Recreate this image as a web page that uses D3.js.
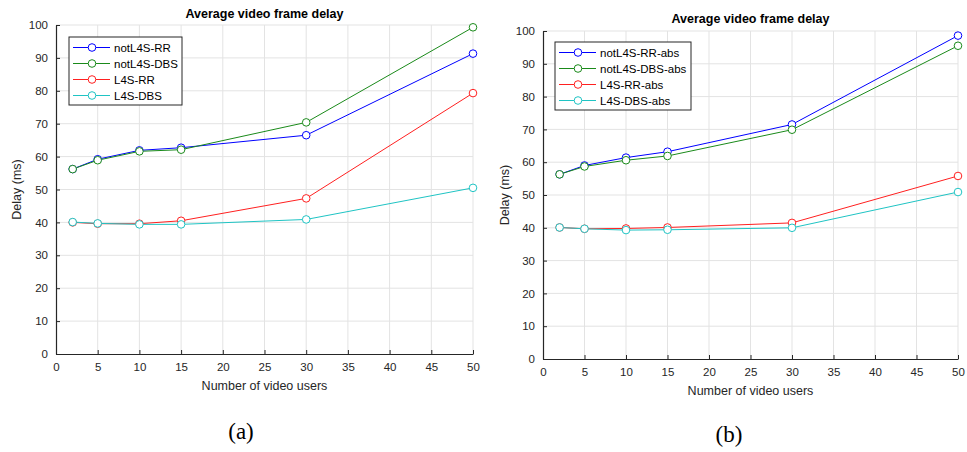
<!DOCTYPE html>
<html>
<head>
<meta charset="utf-8">
<script src="https://cdn.jsdelivr.net/npm/d3@7"></script>
<style>
  html, body { margin: 0; padding: 0; background: #fff; }
  svg text { font-family: "Liberation Sans", Arial, Helvetica, sans-serif; }
</style>
</head>
<body>
<svg id="chart" width="967" height="452"></svg>
<script>
// Number of video users (x values shared by all series)
const users = [2, 5, 10, 15, 30, 50];

// Panel (a): average video frame delay in ms
const seriesNamesA = ["notL4S-RR", "notL4S-DBS", "L4S-RR", "L4S-DBS"];
const notL4S_RR  = [56.2, 59.2, 61.9, 62.7, 66.5, 91.3];
const notL4S_DBS = [56.2, 58.9, 61.6, 62.1, 70.4, 99.3];
const L4S_RR     = [40.0, 39.6, 39.6, 40.5, 47.3, 79.3];
const L4S_DBS    = [40.1, 39.7, 39.4, 39.4, 40.9, 50.5];

// Panel (b): average video frame delay in ms, "-abs" variants
const seriesNamesB = ["notL4S-RR-abs", "notL4S-DBS-abs", "L4S-RR-abs", "L4S-DBS-abs"];
const notL4S_RR_abs  = [56.3, 59.0, 61.4, 63.2, 71.5, 98.6];
const notL4S_DBS_abs = [56.3, 58.7, 60.6, 61.9, 69.9, 95.5];
const L4S_RR_abs     = [40.1, 39.7, 39.8, 40.1, 41.5, 55.8];
const L4S_DBS_abs    = [40.1, 39.7, 39.3, 39.4, 40.0, 50.9];

const xTicks = [0, 5, 10, 15, 20, 25, 30, 35, 40, 45, 50];
const yTicks = [0, 10, 20, 30, 40, 50, 60, 70, 80, 90, 100];

const titleText = "Average video frame delay";
const xLabel = "Number of video users";
const yLabel = "Delay (ms)";

const colors = ["#0000ff", "#1a8a1a", "#ff2020", "#1fc4c4"];
const axisColor = "#262626";
const gridColor = "#e3e3e3";

const svg = d3.select("#chart");

function drawPanel(cfg) {
  const x = d3.scaleLinear().domain([0, 50]).range([cfg.left, cfg.right]);
  const y = d3.scaleLinear().domain([0, 100]).range([cfg.bottom, cfg.top]);
  const g = svg.append("g");

  // grid
  g.append("g").selectAll("line").data(xTicks.slice(1)).join("line")
    .attr("x1", d => x(d)).attr("x2", d => x(d))
    .attr("y1", cfg.bottom).attr("y2", cfg.top)
    .attr("stroke", gridColor).attr("stroke-width", 1);
  g.append("g").selectAll("line").data(yTicks.slice(1)).join("line")
    .attr("x1", cfg.left).attr("x2", cfg.right)
    .attr("y1", d => y(d)).attr("y2", d => y(d))
    .attr("stroke", gridColor).attr("stroke-width", 1);

  // axes with inward ticks
  const xAxis = d3.axisBottom(x).tickValues(xTicks).tickSizeInner(-4).tickSizeOuter(0).tickPadding(9);
  const yAxis = d3.axisLeft(y).tickValues(yTicks).tickSizeInner(-4).tickSizeOuter(0).tickPadding(8);
  const gx = g.append("g").attr("transform", `translate(0,${cfg.bottom})`).call(xAxis);
  const gy = g.append("g").attr("transform", `translate(${cfg.left},0)`).call(yAxis);
  [gx, gy].forEach(a => {
    a.selectAll("path").attr("stroke", axisColor).attr("stroke-width", 1.2);
    a.selectAll("line").attr("stroke", axisColor);
    a.selectAll("text").attr("fill", axisColor).style("font-size", "11.5px")
      .style("font-family", "'Liberation Sans', Arial, sans-serif");
  });

  // series
  const line = d3.line().x((d, i) => x(users[i])).y(d => y(d));
  cfg.series.forEach((vals, k) => {
    g.append("path").datum(vals).attr("d", line)
      .attr("fill", "none").attr("stroke", colors[k]).attr("stroke-width", 1);
  });
  cfg.series.forEach((vals, k) => {
    g.append("g").selectAll("circle").data(vals).join("circle")
      .attr("cx", (d, i) => x(users[i])).attr("cy", d => y(d)).attr("r", 3.8)
      .attr("fill", "#fff").attr("stroke", colors[k]).attr("stroke-width", 1);
  });

  // title and labels
  g.append("text").attr("x", (cfg.left + cfg.right) / 2).attr("y", cfg.titleY)
    .attr("text-anchor", "middle").attr("font-weight", "bold")
    .style("font-size", "12.5px").attr("fill", "#000").text(titleText);
  g.append("text").attr("x", (cfg.left + cfg.right) / 2).attr("y", cfg.xLabelY)
    .attr("text-anchor", "middle").style("font-size", "12.5px").attr("fill", axisColor).text(xLabel);
  g.append("text").attr("transform", `translate(${cfg.yLabelX},${(cfg.top + cfg.bottom) / 2}) rotate(-90)`)
    .attr("text-anchor", "middle").style("font-size", "12.5px").attr("fill", axisColor).text(yLabel);

  // legend
  const lg = g.append("g").attr("transform", `translate(${cfg.legX},${cfg.legY})`);
  lg.append("rect").attr("width", cfg.legW).attr("height", 68)
    .attr("fill", "#fff").attr("stroke", axisColor).attr("stroke-width", 1);
  cfg.names.forEach((name, k) => {
    const ry = 10.5 + k * 16;
    lg.append("line").attr("x1", 4).attr("x2", 41).attr("y1", ry).attr("y2", ry)
      .attr("stroke", colors[k]).attr("stroke-width", 1);
    lg.append("circle").attr("cx", 23).attr("cy", ry).attr("r", 3.8)
      .attr("fill", "#fff").attr("stroke", colors[k]).attr("stroke-width", 1);
    lg.append("text").attr("x", 45).attr("y", ry).attr("dy", "0.35em")
      .style("font-size", "11.5px").attr("fill", "#000").text(name);
  });

  // caption
  g.append("text").attr("x", cfg.capX).attr("y", cfg.capY).attr("text-anchor", "middle")
    .style("font-family", "'Liberation Serif', 'Times New Roman', serif")
    .style("font-size", "23px").attr("fill", "#000").text(cfg.caption);
}

drawPanel({
  left: 56, right: 473, top: 25, bottom: 354,
  series: [notL4S_RR, notL4S_DBS, L4S_RR, L4S_DBS], names: seriesNamesA,
  titleY: 18, xLabelY: 390, yLabelX: 21,
  legX: 69, legY: 37, legW: 113,
  caption: "(a)", capX: 241, capY: 439
});

drawPanel({
  left: 543, right: 958, top: 31, bottom: 359,
  series: [notL4S_RR_abs, notL4S_DBS_abs, L4S_RR_abs, L4S_DBS_abs], names: seriesNamesB,
  titleY: 23, xLabelY: 395, yLabelX: 509,
  legX: 555, legY: 42, legW: 136,
  caption: "(b)", capX: 729, capY: 442
});
</script>
</body>
</html>
